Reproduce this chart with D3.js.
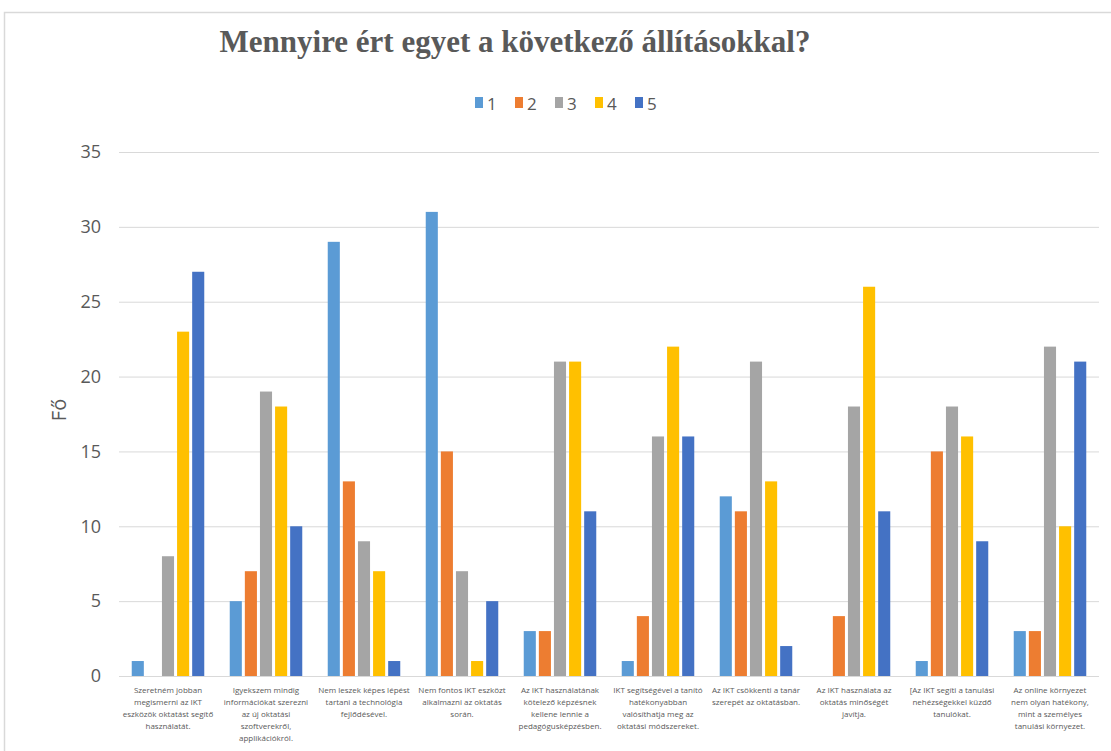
<!DOCTYPE html>
<html><head><meta charset="utf-8">
<script src="https://cdn.jsdelivr.net/npm/d3@7"></script>
<style>body{margin:0;background:#fff}svg{display:block}</style>
</head><body>
<svg id="c" width="1111" height="751"></svg>
<script>
const categories = [
  ["Szeretném jobban","megismerni az IKT","eszközök oktatást segítő","használatát."],
  ["Igyekszem mindig","információkat szerezni","az új oktatási","szoftverekről,","applikációkról."],
  ["Nem leszek képes lépést","tartani a technológia","fejlődésével."],
  ["Nem fontos IKT eszközt","alkalmazni az oktatás","során."],
  ["Az IKT használatának","kötelező képzésnek","kellene lennie a","pedagógusképzésben."],
  ["IKT segítségével a tanító","hatékonyabban","valósíthatja meg az","oktatási módszereket."],
  ["Az IKT csökkenti a tanár","szerepét az oktatásban."],
  ["Az IKT használata az","oktatás minőségét","javítja."],
  ["[Az IKT segíti a tanulási","nehézségekkel küzdő","tanulókat."],
  ["Az online környezet","nem olyan hatékony,","mint a személyes","tanulási környezet."]
];
const seriesNames = ["1","2","3","4","5"];
const s1 = [1,5,29,31,3,1,12,0,1,3];
const s2 = [0,7,13,15,3,4,11,4,15,3];
const s3 = [8,19,9,7,21,16,21,18,18,22];
const s4 = [23,18,7,1,21,22,13,26,16,10];
const s5 = [27,10,1,5,11,16,2,11,9,21];
const series = [s1,s2,s3,s4,s5];
const colors = ["#5B9BD5","#ED7D31","#A5A5A5","#FFC000","#4472C4"];
const yTicks = [0,5,10,15,20,25,30,35];
const title = "Mennyire ért egyet a következő állításokkal?";
const yLabel = "Fő";

const svg = d3.select("#c");
svg.append("rect").attr("x",4.5).attr("y",12.5).attr("width",1200).attr("height",800)
  .attr("fill","#fff").attr("stroke","#D9D9D9").attr("stroke-width",1.5);

const x0 = d3.scaleBand().domain(d3.range(categories.length)).range([119,1099]).paddingInner(0.26).paddingOuter(0.13);
const x1 = d3.scaleBand().domain(d3.range(5)).range([0,x0.bandwidth()]).paddingInner(0.2);
const y = d3.scaleLinear().domain([0,35]).range([676,152]);

// grid
svg.append("g").selectAll("line").data(yTicks).join("line")
  .attr("x1",119).attr("x2",1099).attr("y1",d=>y(d)+0.5).attr("y2",d=>y(d)+0.5)
  .attr("stroke","#D9D9D9").attr("stroke-width",1);

// y axis labels
const ya = svg.append("g").attr("transform","translate(101,0)")
  .call(d3.axisLeft(y).tickValues(yTicks).tickSize(0).tickPadding(0));
ya.select(".domain").remove();
ya.selectAll("text").attr("font-family","'Open Sans',sans-serif").attr("font-size",18).attr("fill","#595959");

svg.append("text").attr("transform","translate(66,410) rotate(-90)").attr("text-anchor","middle")
  .attr("font-family","'Open Sans',sans-serif").attr("font-size",20).attr("fill","#595959").text(yLabel);

// bars
const g = svg.append("g");
series.forEach((s,i)=>{
  g.append("g").selectAll("rect").data(s).join("rect")
    .attr("x",(d,j)=>x0(j)+x1(i)).attr("width",x1.bandwidth())
    .attr("y",d=>y(d)).attr("height",d=>y(0)-y(d)).attr("fill",colors[i]);
});

// category labels
const cl = svg.append("g");
categories.forEach((lines,j)=>{
  const t = cl.append("text").attr("text-anchor","middle")
    .attr("font-family","'Open Sans',sans-serif").attr("font-size",8).attr("fill","#595959");
  lines.forEach((ln,k)=>{
    t.append("tspan").attr("x",x0(j)+x0.bandwidth()/2).attr("y",693+k*12).text(ln);
  });
});

// title
svg.append("text").attr("x",515).attr("y",52).attr("text-anchor","middle")
  .attr("font-family","'Liberation Serif',serif").attr("font-weight","bold").attr("font-size",31)
  .attr("fill","#595959").text(title);

// legend
const lg = svg.append("g");
seriesNames.forEach((n,i)=>{
  const lx = 475 + i*40;
  lg.append("rect").attr("x",lx).attr("y",97).attr("width",8).attr("height",11).attr("fill",colors[i]);
  lg.append("text").attr("x",lx+12).attr("y",110).attr("font-family","'Open Sans',sans-serif")
    .attr("font-size",17).attr("fill","#595959").text(n);
});
</script>
</body></html>
